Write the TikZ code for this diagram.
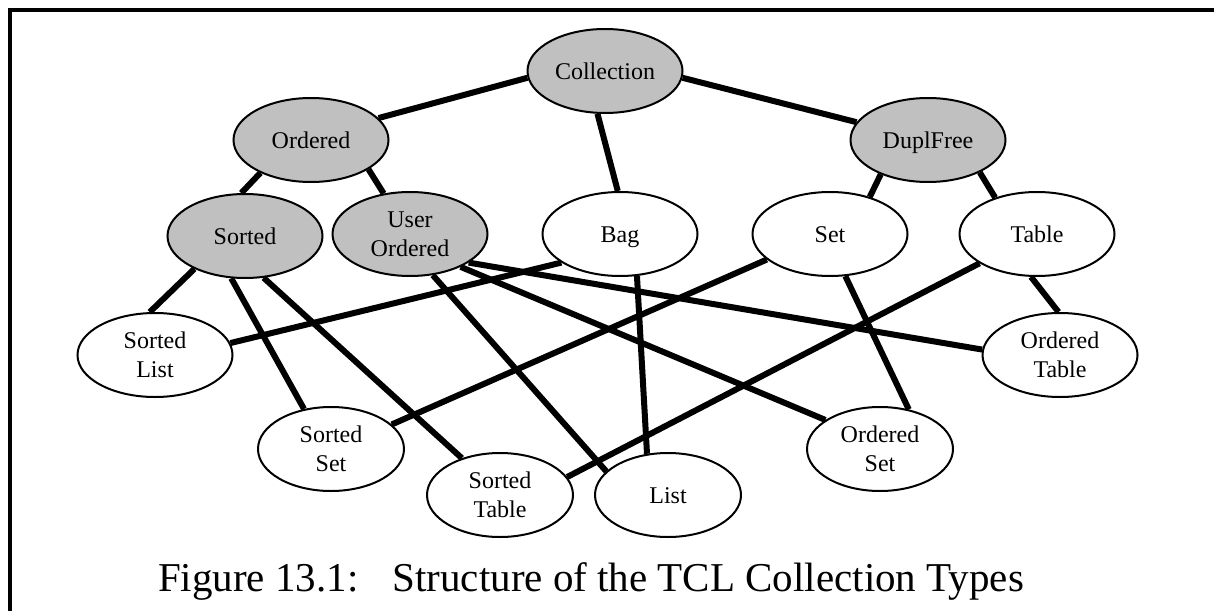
\documentclass[tikz,border=0pt]{standalone}
\usepackage{fontspec}
\setmainfont{Liberation Serif}
\usetikzlibrary{shapes.geometric}
\definecolor{nodegray}{HTML}{C0C0C0}
\tikzset{
  typenode/.style={ellipse, draw=black, line width=1pt, inner sep=0pt,
    minimum width=77.5pt, minimum height=42pt, align=center,
    font=\fontsize{12}{14.5}\selectfont, fill=white},
  oneline/.style={text height=9pt, text depth=0.5pt},
  smallnode/.style={typenode, minimum width=73pt},
  abstractnode/.style={typenode, fill=nodegray},
  link/.style={line width=3pt, black}
}
\begin{document}
\begin{tikzpicture}[x=0.5pt, y=-0.5pt]
\useasboundingbox (0,0) rectangle (1214,610);
\draw[line width=2pt, line join=miter] (9.5,612) -- (9.5,10) -- (1216,10);

\node[abstractnode, oneline] (coll)   at (605,71)  {Collection};
\node[abstractnode, oneline] (ord)    at (311,140) {Ordered};
\node[abstractnode, oneline] (dup)    at (928,140) {DuplFree};
\node[abstractnode, oneline] (sorted) at (245,236) {Sorted};
\node[abstractnode] (uord)   at (410,234) {User\\Ordered};
\node[typenode, oneline] (bag)    at (620,234) {Bag};
\node[typenode, oneline] (set)    at (830,234) {Set};
\node[typenode, oneline] (table)  at (1037,234) {Table};
\node[typenode]     (slist)  at (155,355) {Sorted\\List};
\node[typenode]     (otable) at (1060,355) {Ordered\\Table};
\node[smallnode]    (sset)   at (331,449) {Sorted\\Set};
\node[smallnode]    (stable) at (500,495) {Sorted\\Table};
\node[smallnode, oneline] (list) at (668,495) {List};
\node[smallnode]    (oset)   at (880,449) {Ordered\\Set};

\draw[link] (coll.185) -- (ord.18);
\draw[link] (coll.355) -- (dup.166);
\draw[link] (coll.260) -- (bag.93);
\draw[link] (ord.213) -- (sorted.95);
\draw[link] (ord.333) -- (uord.123);
\draw[link] (dup.216) -- (set.43);
\draw[link] (dup.328) -- (table.139);
\draw[link] (sorted.213) -- (slist.97);
\draw[link] (sorted.252) -- (sset.124);
\draw[link] (sorted.294) -- (stable.136);
\draw[link] (bag.206) -- (slist.9);
\draw[link] (bag.292) -- (list.117);
\draw[link] (uord.299) -- (list.159);
\draw[link] (uord.327) -- (oset.152);
\draw[link] (uord.334) -- (otable.176);
\draw[link] (set.202) -- (sset.22);
\draw[link] (set.290) -- (oset.54);
\draw[link] (table.207) -- (stable.15);
\draw[link] (table.262) -- (otable.92);

\node[anchor=base, inner sep=0pt, font=\fontsize{20.5}{24}\selectfont] (caption) at (591,591)
  {Figure 13.1:\hspace{0.5em} Structure of the TCL Collection Types};
\end{tikzpicture}
\end{document}
